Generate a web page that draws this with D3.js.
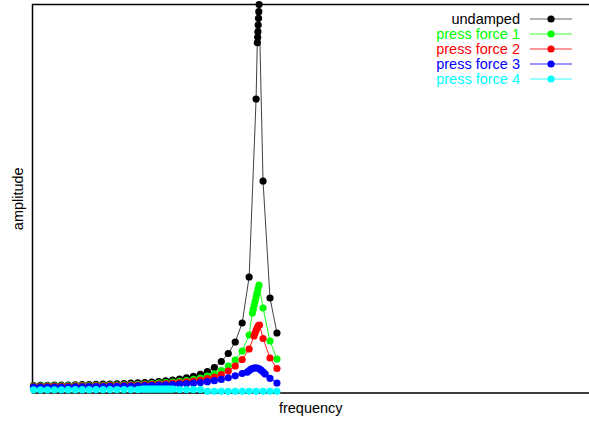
<!DOCTYPE html>
<html>
<head>
<meta charset="utf-8">
<script src="https://cdn.jsdelivr.net/npm/d3@7"></script>
<style>
  html, body { margin: 0; padding: 0; background: #fff; }
  svg { display: block; }
  text { font-family: "Liberation Sans", Arial, Helvetica, sans-serif; }
</style>
</head>
<body>
<script>
// Driving frequency vs. response amplitude for a forced oscillator,
// measured without damping and with four press forces.
const seriesNames = ["undamped", "press force 1", "press force 2", "press force 3", "press force 4"];
const seriesColors = ["#000000", "#00ff00", "#ff0000", "#0000ff", "#00ffff"];

// [frequency, amplitude]
const undamped = [
  [1,0.193],[2,0.196],[3,0.198],[4,0.201],[5,0.203],[6,0.206],[7,0.208],[8,0.214],[9,0.216],[10,0.221],
  [11,0.227],[12,0.232],[13,0.237],[14,0.245],[15,0.252],[16,0.260],[17,0.270],[18,0.283],[19,0.296],[20,0.314],
  [21,0.335],[22,0.360],[23,0.391],[24,0.430],[25,0.481],[26,0.553],[27,0.656],[28,0.811],[29,1.017],[30,1.313],
  [31,1.802],[32,2.986],[33,7.568],
  [33.17,9.017],[33.22,9.156],[33.26,9.300],[33.30,9.472],[33.35,9.645],[33.39,9.815],[33.43,10.0],
  [34,5.457],[35,2.445],[36,1.544]
];
const pressForce1 = [
  [1,0.180],[2,0.180],[3,0.183],[4,0.183],[5,0.185],[6,0.185],[7,0.188],[8,0.190],[9,0.193],[10,0.196],
  [11,0.198],[12,0.201],[13,0.206],[14,0.211],[15,0.216],[16,0.224],[17,0.232],[18,0.242],[19,0.252],[20,0.265],
  [21,0.281],[22,0.299],[23,0.322],[24,0.350],[25,0.386],[26,0.432],[27,0.494],[28,0.579],[29,0.695],[30,0.849],
  [31,1.081],[32,1.493],
  [32.47,2.059],[32.60,2.162],[32.73,2.265],[32.87,2.368],[33.00,2.471],[33.13,2.574],[33.27,2.677],[33.42,2.780],
  [34,2.188],[35,1.338],[36,0.875]
];
const pressForce2 = [
  [1,0.167],[2,0.167],[3,0.170],[4,0.170],[5,0.172],[6,0.172],[7,0.175],[8,0.178],[9,0.180],[10,0.183],
  [11,0.185],[12,0.188],[13,0.190],[14,0.196],[15,0.201],[16,0.206],[17,0.214],[18,0.221],[19,0.232],[20,0.242],
  [21,0.255],[22,0.270],[23,0.288],[24,0.309],[25,0.335],[26,0.368],[27,0.412],[28,0.476],[29,0.566],[30,0.695],
  [31,0.862],[32,1.133],
  [32.70,1.467],[32.86,1.544],[33.02,1.622],[33.17,1.686],[33.33,1.732],[33.49,1.750],
  [34,1.403],[35,0.901],[36,0.630]
];
const pressForce3 = [
  [1,0.149],[2,0.149],[3,0.152],[4,0.152],[5,0.154],[6,0.154],[7,0.157],[8,0.160],[9,0.162],[10,0.165],
  [11,0.167],[12,0.170],[13,0.172],[14,0.175],[15,0.180],[16,0.185],[17,0.190],[18,0.196],[19,0.203],[20,0.211],
  [21,0.219],[22,0.229],[23,0.239],[24,0.252],[25,0.270],[26,0.291],[27,0.317],[28,0.350],[29,0.391],[30,0.443],
  [31,0.502],
  [31.72,0.535],[32.01,0.579],[32.29,0.613],[32.58,0.636],[32.87,0.649],[33.16,0.644],[33.45,0.623],[33.73,0.587],
  [34.02,0.541],[34.31,0.489],
  [35,0.378],[36,0.257]
];
const pressForce4 = [
  [1,0.082],[2,0.083],[3,0.083],[4,0.084],[5,0.084],[6,0.085],[7,0.085],[8,0.086],[9,0.086],[10,0.087],
  [11,0.087],[12,0.088],[13,0.088],[14,0.089],[15,0.089],[16,0.090],
  [16.6,0.103],[16.9,0.103],[17.2,0.103],[17.5,0.103],[17.8,0.103],[18.1,0.103],[18.4,0.103],[18.7,0.103],
  [19.0,0.103],[19.3,0.103],[19.6,0.103],[19.9,0.103],[20.2,0.103],[20.5,0.103],[20.8,0.103],[21.1,0.103],
  [22,0.090],[23,0.090],[24,0.090],[25,0.090],
  [26,0.044],[27,0.044],[28,0.044],[29,0.044],[30,0.044],[31,0.044],[32,0.044],[33,0.044],[34,0.044],[35,0.044],[36,0.044]
];
const seriesData = [undamped, pressForce1, pressForce2, pressForce3, pressForce4];

const xLabel = "frequency";
const yLabel = "amplitude";

const W = 589, H = 421;
const plot = { left: 32.5, right: 589, top: 4.5, bottom: 393 };

const x = d3.scaleLinear().domain([0.856, 80.86]).range([plot.left, plot.right]);
const y = d3.scaleLinear().domain([0, 10]).range([plot.bottom, plot.top]);

const svg = d3.select("body").append("svg").attr("width", W).attr("height", H);

// Border: axes carry no ticks, only the frame
svg.append("path")
  .attr("d", `M${W},${plot.top}H${plot.left}V${plot.bottom}H${W}`)
  .attr("fill", "none").attr("stroke", "#000").attr("stroke-width", 1.5);

const line = d3.line().x(d => x(d[0])).y(d => y(d[1]));

seriesData.forEach((data, i) => {
  const g = svg.append("g");
  g.append("path").datum(data)
    .attr("d", line)
    .attr("fill", "none")
    .attr("stroke", seriesColors[i])
    .attr("stroke-width", 1)
    .attr("stroke-opacity", i === 0 ? 0.75 : 0.9);
  g.selectAll("circle").data(data).join("circle")
    .attr("cx", d => x(d[0])).attr("cy", d => y(d[1]))
    .attr("r", 3.6).attr("fill", seriesColors[i]);
});

// Legend (top right)
const legend = svg.append("g");
seriesNames.forEach((name, i) => {
  const ly = 19 + i * 15;
  legend.append("text")
    .attr("x", 520).attr("y", ly).attr("dy", "0.35em")
    .attr("text-anchor", "end")
    .attr("font-size", 14.5)
    .attr("fill", seriesColors[i])
    .text(name);
  legend.append("line")
    .attr("x1", 530).attr("x2", 572).attr("y1", ly).attr("y2", ly)
    .attr("stroke", seriesColors[i]).attr("stroke-width", 1)
    .attr("stroke-opacity", i === 0 ? 0.6 : 0.8);
  legend.append("circle")
    .attr("cx", 551).attr("cy", ly).attr("r", 3.6)
    .attr("fill", seriesColors[i]);
});

// Axis titles
svg.append("text")
  .attr("x", (plot.left + plot.right) / 2).attr("y", 408).attr("dy", "0.35em")
  .attr("text-anchor", "middle").attr("font-size", 14.5)
  .text(xLabel);
svg.append("text")
  .attr("transform", `translate(18,${(plot.top + plot.bottom) / 2}) rotate(-90)`)
  .attr("dy", "0.35em")
  .attr("text-anchor", "middle").attr("font-size", 14.5)
  .text(yLabel);
</script>
</body>
</html>
